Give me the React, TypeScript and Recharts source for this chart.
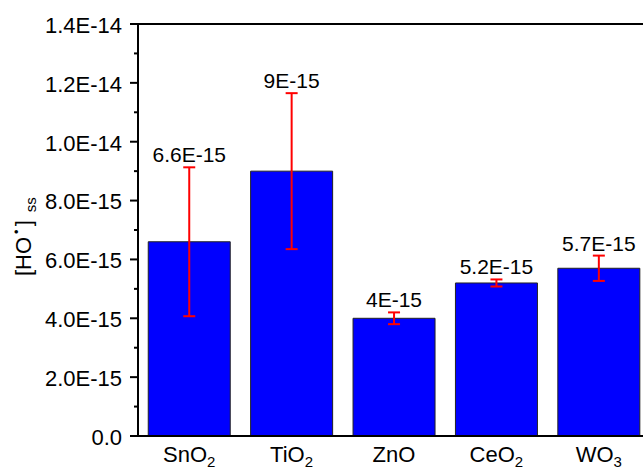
import React from 'react';
import { BarChart, Bar, XAxis, YAxis, ErrorBar, LabelList, ReferenceLine } from 'recharts';

const categories = ['SnO2', 'TiO2', 'ZnO', 'CeO2', 'WO3'];
const values = [6.6e-15, 9e-15, 4e-15, 5.2e-15, 5.7e-15];
const errors = [2.53e-15, 2.65e-15, 0.2e-15, 0.12e-15, 0.43e-15];
const valueLabels = ['6.6E-15', '9E-15', '4E-15', '5.2E-15', '5.7E-15'];
const yTicks = [
  0, 1e-15, 2e-15, 3e-15, 4e-15, 5e-15, 6e-15, 7e-15,
  8e-15, 9e-15, 1e-14, 1.1e-14, 1.2e-14, 1.3e-14, 1.4e-14,
];

const data = categories.map((name, i) => ({ name, value: values[i], err: errors[i] }));

const FONT = '"Liberation Sans", Arial, sans-serif';

const formatY = (v: number) => (v === 0 ? '0.0' : v.toExponential(1).replace('e', 'E'));

const YTick = (props: any) => {
  const { x, y, payload } = props;
  const major = Math.round(payload.value / 1e-15) % 2 === 0;
  return (
    <g>
      <line x1={x - (major ? 8 : 4)} x2={x} y1={y} y2={y} stroke="#000" strokeWidth={2} />
      {major && (
        <text x={x - 16} y={y + 1} dy="0.36em" textAnchor="end" fontSize={22} fill="#000" fontFamily={FONT}>
          {formatY(payload.value)}
        </text>
      )}
    </g>
  );
};

const XTick = (props: any) => {
  const { x, y, payload } = props;
  const m = String(payload.value).match(/^(.*?)(\d*)$/) || ['', payload.value, ''];
  return (
    <text x={x} y={y + 26} textAnchor="middle" fontSize={22} fill="#000" fontFamily={FONT}>
      {m[1]}
      {m[2] && (
        <tspan fontSize={15} dy={5}>
          {m[2]}
        </tspan>
      )}
    </text>
  );
};

const ValueLabel = (props: any) => {
  const { x, y, width, height, index } = props;
  const errTop = y - errors[index] * (height / values[index]);
  return (
    <text x={x + width / 2} y={errTop - 5} textAnchor="middle" fontSize={21} fill="#000" fontFamily={FONT}>
      {valueLabels[index]}
    </text>
  );
};

export default function App() {
  return (
    <div style={{ position: 'absolute', left: 0, top: 0, width: 643, height: 470, overflow: 'hidden', background: '#fff' }}>
      <BarChart
        width={650}
        height={470}
        data={data}
        margin={{ top: 24, right: 0, bottom: 0, left: 0 }}
        barCategoryGap="10%"
      >
        <XAxis
          dataKey="name"
          height={34}
          tickLine={false}
          tickSize={0}
          tickMargin={0}
          axisLine={{ stroke: '#000', strokeWidth: 2 }}
          tick={<XTick />}
          interval={0}
        />
        <YAxis
          width={138}
          domain={[0, 1.4e-14]}
          ticks={yTicks}
          interval={0}
          allowDataOverflow
          tickLine={false}
          tickSize={0}
          tickMargin={0}
          axisLine={{ stroke: '#000', strokeWidth: 2 }}
          tick={<YTick />}
          label={{
            content: () => (
              <text
                x={31}
                y={276}
                transform="rotate(-90, 31, 276)"
                textAnchor="start"
                fontSize={22}
                fill="#000"
                fontFamily={FONT}
              >
                [HO
                <tspan fontSize={13} dx={3} dy={-10}>•</tspan>
                <tspan dx={3} dy={10}>]</tspan>
                <tspan fontSize={15} dx={8} dy={5}>ss</tspan>
              </text>
            ),
          }}
        />
        <ReferenceLine y={1.4e-14} stroke="#000" strokeWidth={2} />
        <Bar dataKey="value" fill="#0000FF" stroke="#222" strokeWidth={1} isAnimationActive={false}>
          <ErrorBar dataKey="err" direction="y" width={6} stroke="#FF0000" strokeWidth={2} />
          <LabelList dataKey="value" content={<ValueLabel />} />
        </Bar>
      </BarChart>
    </div>
  );
}
